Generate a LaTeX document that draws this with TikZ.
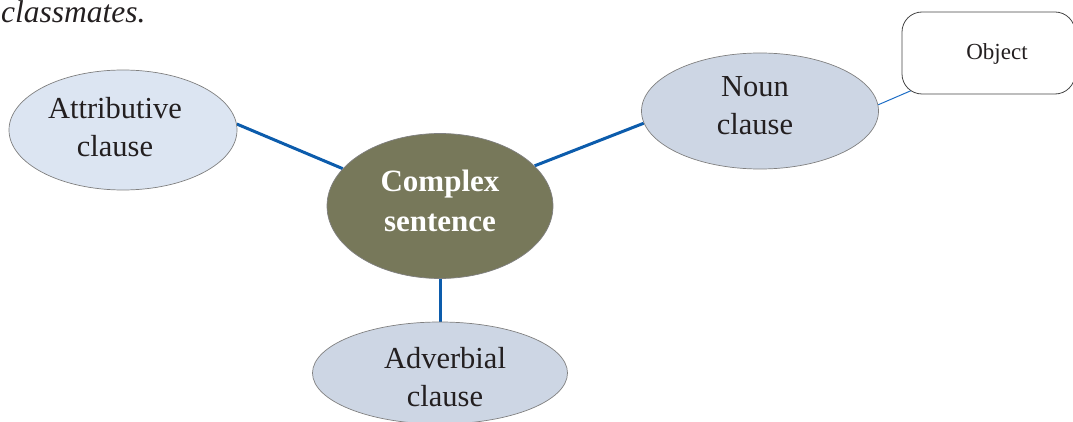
\documentclass[tikz,border=0pt]{standalone}
\usepackage{fontspec}
\setmainfont{Liberation Serif}
\usetikzlibrary{shapes.geometric,backgrounds}
\definecolor{rimgray}{RGB}{128,128,128}
\definecolor{attribfill}{RGB}{220,229,242}
\definecolor{clausefill}{RGB}{205,214,228}
\definecolor{hubfill}{RGB}{119,120,90}
\definecolor{linkblue}{RGB}{12,92,172}
\definecolor{thinblue}{RGB}{30,110,198}
\definecolor{boxrim}{RGB}{70,70,70}
\definecolor{inktext}{RGB}{35,31,32}
\begin{document}
\begin{tikzpicture}[x=1pt,y=-1pt,
  bubble/.style={ellipse, draw=rimgray, line width=0.7pt, inner sep=0pt},
  bubbletext/.style={align=center, inner sep=0pt, text=inktext,
    font=\fontsize{30.5}{38}\selectfont},
  hubtext/.style={align=center, inner sep=0pt, text=white,
    font=\fontsize{31}{39.5}\selectfont\bfseries},
  link/.style={draw=linkblue, line width=3pt},
  thinlink/.style={draw=thinblue, line width=1pt},
  tagbox/.style={rectangle, rounded corners=20pt, draw=boxrim, line width=0.8pt,
    fill=white, inner sep=0pt}]
\useasboundingbox (0,0) rectangle (1073,422);

% running text above the diagram
\node[anchor=base west, inner sep=0pt, font=\fontsize{31.5}{38}\selectfont\itshape,
  text=inktext] (lead) at (1,23) {classmates.};

% clause bubbles and the central hub
\node[bubble, fill=attribfill, minimum width=228pt, minimum height=120pt] (attr) at (123,130) {};
\node[bubble, fill=clausefill, minimum width=237pt, minimum height=116pt] (noun) at (760,111) {};
\node[bubble, fill=hubfill, minimum width=226pt, minimum height=145pt] (hub) at (440,206) {};
\node[bubble, fill=clausefill, minimum width=255pt, minimum height=102pt] (adv) at (440,373) {};

% box for the function of the noun clause
\node[tagbox, minimum width=173pt, minimum height=82pt] (obj) at (988.5,53) {};

% bubble labels (base anchor sits on the last line)
\node[bubbletext, anchor=base] (attrtext) at (115,157) {Attributive\\clause};
\node[bubbletext, anchor=base] (nountext) at (755,135) {Noun\\clause};
\node[hubtext, anchor=base] (hubtextnode) at (440,231) {Complex\\sentence};
\node[bubbletext, anchor=base] (advtext) at (445,406) {Adverbial\\clause};
\node[anchor=base, inner sep=0pt, font=\fontsize{23}{28}\selectfont, text=inktext]
  (objtext) at (997,60) {Object};

% connectors, kept behind the shapes
\coordinate (objfoot) at ([xshift=10pt,yshift=4pt]obj.south west);
\begin{pgfonlayer}{background}
  \draw[link] (attr.3) -- (hub.159);
  \draw[link] (hub.23) -- (noun.186);
  \draw[link] (hub.south) -- (adv.north);
  \draw[thinlink] (noun.3) -- (objfoot);
\end{pgfonlayer}
\end{tikzpicture}
\end{document}
